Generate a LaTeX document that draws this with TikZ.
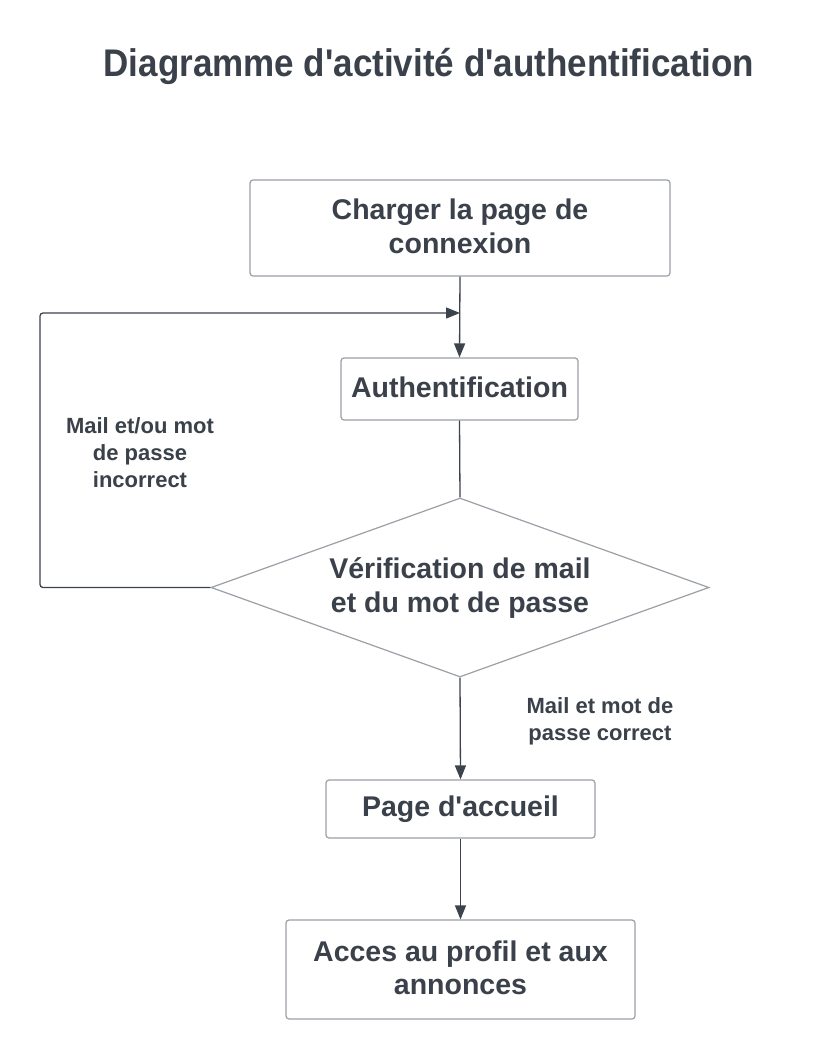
\documentclass[tikz,border=0pt]{standalone}
\usepackage{fontspec}
\setmainfont{Liberation Sans}[Ligatures=TeXOff]
\usetikzlibrary{shapes.geometric,arrows.meta}
\definecolor{txt}{HTML}{3A414A}
\definecolor{bord}{HTML}{9AA0A6}
\definecolor{conn}{HTML}{3D434C}
\newcommand{\upln}[1]{\raisebox{3.5pt}{#1}}
\tikzset{
  box/.style={draw=bord, line width=1.2pt, rounded corners=3pt, fill=white, text=txt,
    font=\fontsize{28.5}{33.5}\selectfont\bfseries, align=center, inner sep=0pt},
  decision/.style={draw=bord, line width=1.2pt, diamond, aspect=2.78, fill=white, text=txt,
    font=\fontsize{28.5}{34}\selectfont\bfseries, align=center, inner sep=0pt,
    minimum width=498pt, minimum height=179pt},
  lbl/.style={text=txt, font=\fontsize{22}{27}\selectfont\bfseries, align=center, inner sep=0pt},
  flow/.style={draw=conn, line width=1.3pt, -{Triangle[length=14pt,width=11pt]}},
  plain/.style={draw=conn, line width=1.3pt}
}
\begin{document}
\begin{tikzpicture}[x=1pt,y=-1pt]
\useasboundingbox[fill=white] (0,0) rectangle (820,1060);
\node[text=txt, font=\fontsize{35}{40}\selectfont\bfseries, inner sep=0pt] (title) at (429,66) {\scalebox{1}[1.1]{Diagramme d'activité d'authentification}};
\node[box, minimum width=420pt, minimum height=96pt] (charger) at (460,228) {\upln{Charger la page de}\\\upln{connexion}};
\node[box, minimum width=237pt, minimum height=62pt] (auth) at (459.5,389) {\upln{Authentification}};
\node[decision] (verif) at (460,587.5) {Vérification de mail\\et du mot de passe};
\node[box, minimum width=269pt, minimum height=58pt] (accueil) at (460.5,809) {\upln{Page d'accueil}};
\node[box, minimum width=349pt, minimum height=99pt] (acces) at (460.5,969.5) {\upln{Acces au profil et aux}\\\upln{annonces}};
\coordinate (join) at (460,313);
\node[lbl] (incorrect) at (140,453) {Mail et/ou mot\\de passe\\incorrect};
\node[lbl] (correct) at (600,721) {Mail et mot de\\passe correct};
\draw[flow] (charger.south) -- (auth.north);
\draw[plain] (auth.south) -- (verif.north);
\draw[flow, rounded corners=3pt] (verif.west) -- (40,587.5) -- (40,313) -- (join);
\draw[flow] (verif.south) -- (accueil.north);
\draw[flow] (accueil.south) -- (acces.north);
\end{tikzpicture}
\end{document}
